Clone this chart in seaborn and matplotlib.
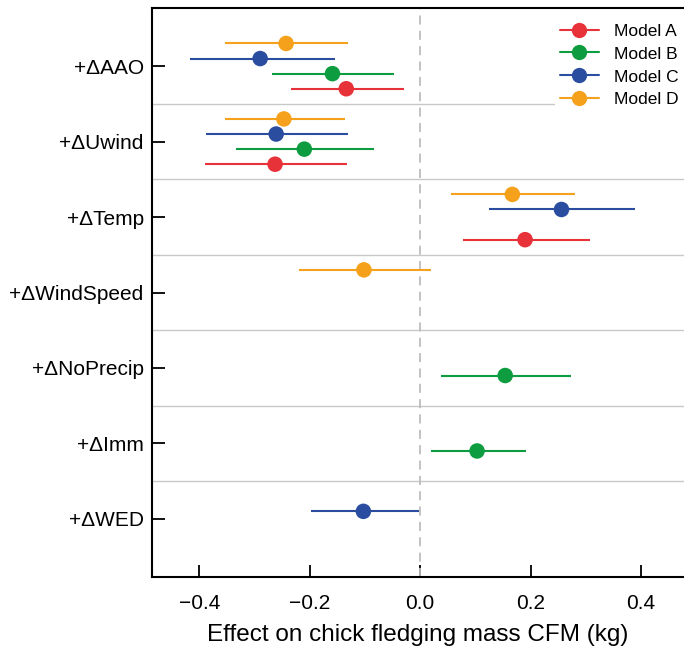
import matplotlib
matplotlib.use("Agg")
import matplotlib.pyplot as plt
from matplotlib.lines import Line2D
import seaborn as sns
import pandas as pd
import numpy as np

sns.set_style("ticks")
plt.rcParams['font.family'] = ['Liberation Sans', 'DejaVu Sans']
plt.rcParams['text.color'] = 'black'
plt.rcParams['axes.labelcolor'] = 'black'
plt.rcParams['xtick.color'] = 'black'
plt.rcParams['ytick.color'] = 'black'

predictors = ["+ΔAAO", "+ΔUwind", "+ΔTemp", "+ΔWindSpeed", "+ΔNoPrecip", "+ΔImm", "+ΔWED"]
models = ["Model A", "Model B", "Model C", "Model D"]
colors = ["#e8323a", "#0d9c3f", "#2b4d9f", "#f5a11c"]

row_pred = ["+ΔAAO", "+ΔAAO", "+ΔAAO", "+ΔAAO",
            "+ΔUwind", "+ΔUwind", "+ΔUwind", "+ΔUwind",
            "+ΔTemp", "+ΔTemp", "+ΔTemp",
            "+ΔWindSpeed", "+ΔNoPrecip", "+ΔImm", "+ΔWED"]
row_model = ["Model A", "Model B", "Model C", "Model D",
             "Model A", "Model B", "Model C", "Model D",
             "Model A", "Model C", "Model D",
             "Model D", "Model B", "Model B", "Model C"]
estimate = [-0.134, -0.159, -0.290, -0.243,
            -0.263, -0.210, -0.261, -0.247,
            0.190, 0.256, 0.167,
            -0.102, 0.154, 0.103, -0.103]
ci_low = [-0.235, -0.268, -0.417, -0.353,
          -0.390, -0.334, -0.388, -0.354,
          0.078, 0.125, 0.056,
          -0.219, 0.038, 0.020, -0.198]
ci_high = [-0.030, -0.047, -0.155, -0.131,
           -0.132, -0.083, -0.131, -0.136,
           0.307, 0.390, 0.281,
           0.020, 0.274, 0.191, -0.002]

offsets = {"Model A": 0.3, "Model B": 0.1, "Model C": -0.1, "Model D": -0.3}

df = pd.DataFrame({"pred": row_pred, "model": row_model, "est": estimate,
                   "lo": ci_low, "hi": ci_high})
df["y"] = [predictors.index(p) + offsets[m] for p, m in zip(df["pred"], df["model"])]

fig = plt.figure(figsize=(6.84, 6.5), dpi=100)
ax = fig.add_axes([152/684, 73/650, 1 - 152/684, (642-73)/650])

pal = dict(zip(models, colors))

# separators
for i in range(len(predictors) - 1):
    ax.axhline(i + 0.5, color="#c8c8c8", lw=1.0, zorder=1)
ax.axvline(0, color="#bdbdbd", lw=1.3, ls=(0, (5, 3.5)), zorder=1)

for _, r in df.iterrows():
    ax.hlines(r["y"], r["lo"], r["hi"], color=pal[r["model"]], lw=1.5, zorder=2)

sns.scatterplot(data=df, x="est", y="y", hue="model", hue_order=models,
                palette=pal, s=125, edgecolor="none", linewidth=0, zorder=3,
                ax=ax, legend=False)

ax.set_xlim(-0.486, 0.478)
ax.set_ylim(6.77, -0.77)
ax.set_yticks(range(len(predictors)))
ax.set_yticklabels(predictors, fontsize=15)
ax.set_xticks([-0.4, -0.2, 0.0, 0.2, 0.4])
ax.set_xticklabels(["\u22120.4", "\u22120.2", "0.0", "0.2", "0.4"], fontsize=15)
ax.set_xlabel("Effect on chick fledging mass CFM (kg)", fontsize=17.5, labelpad=8)
ax.set_ylabel("")
ax.tick_params(direction="in", length=9, width=1.3, colors="black")
ax.tick_params(axis="x", pad=12)
ax.tick_params(axis="y", pad=6)
for s in ["left", "bottom", "top"]:
    ax.spines[s].set_linewidth(1.5)
    ax.spines[s].set_color("black")
ax.spines["right"].set_visible(False)

handles = [Line2D([0], [0], color=c, lw=1.5, marker="o", markersize=11,
                  markeredgewidth=0) for c in colors]
leg = ax.legend(handles, models, loc="upper right", fontsize=12.5, frameon=True,
                handlelength=2.2, handletextpad=0.9, labelspacing=0.45,
                bbox_to_anchor=(1.0, 0.982), borderaxespad=0.0, borderpad=0.3,
                fancybox=False)
leg.get_frame().set_edgecolor("none")
leg.get_frame().set_facecolor("white")
leg.get_frame().set_alpha(1)
leg.set_zorder(5)

fig.savefig("out.png", dpi=100)
